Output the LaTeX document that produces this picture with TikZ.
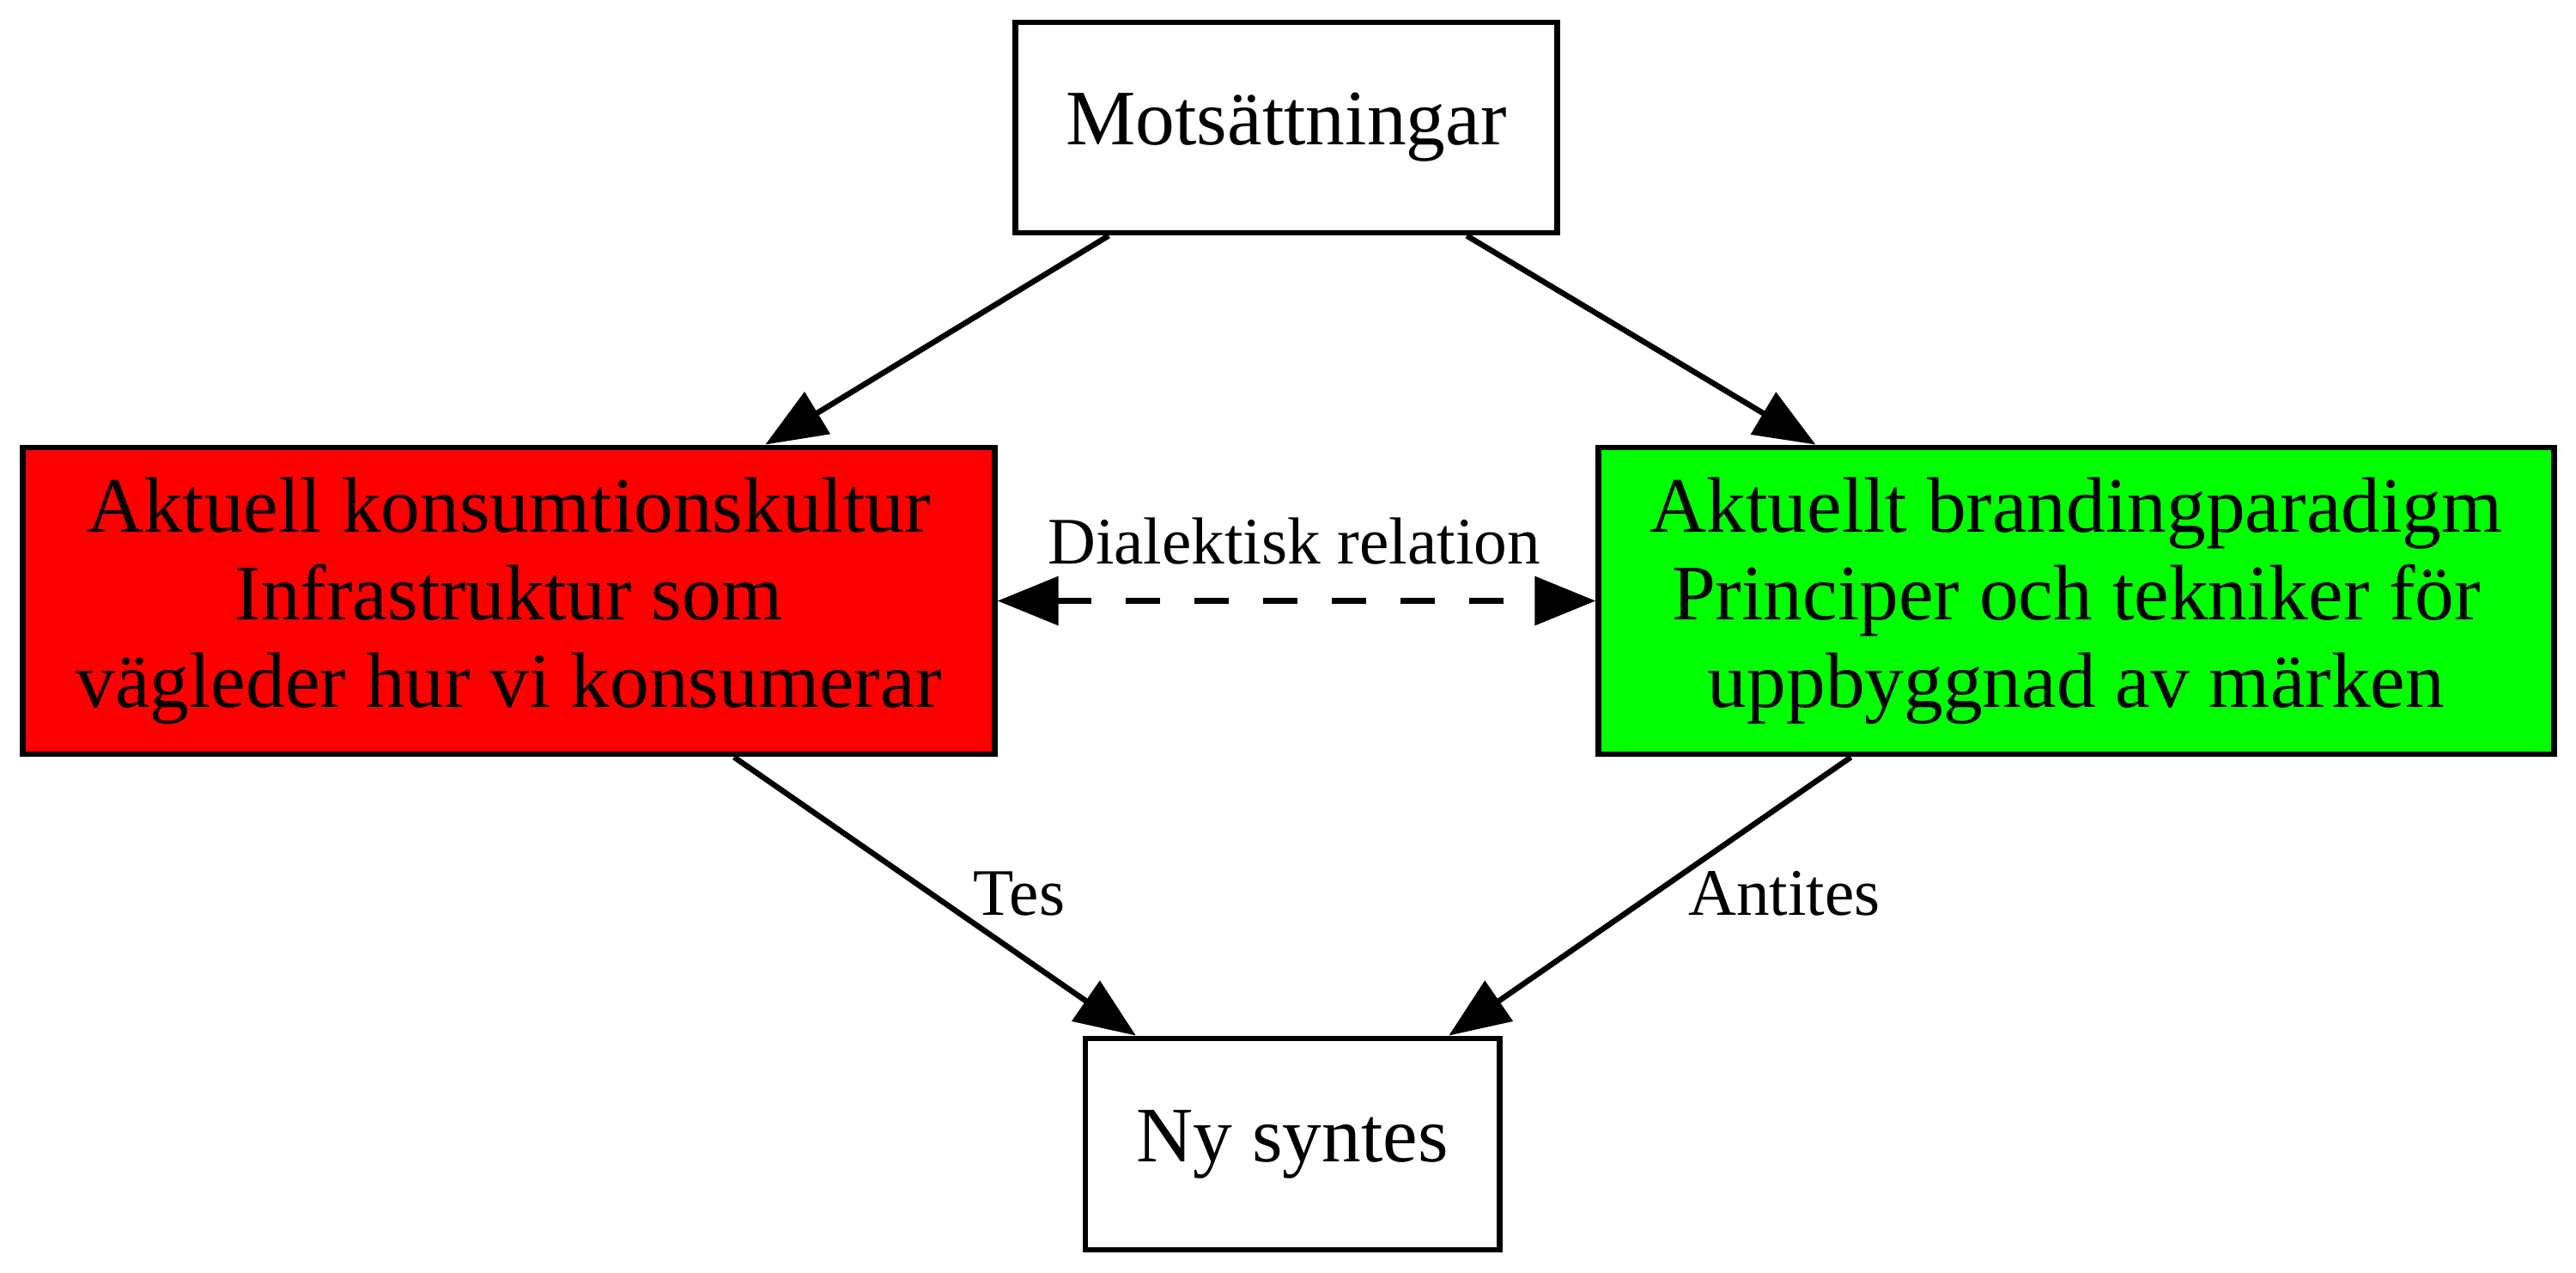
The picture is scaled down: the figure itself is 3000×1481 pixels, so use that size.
\documentclass[tikz,border=0pt]{standalone}
\usepackage{fontspec}
\setmainfont{Liberation Serif}
\usetikzlibrary{arrows.meta}
\definecolor{gvgreen}{RGB}{0,255,0}
\definecolor{gvred}{RGB}{255,0,0}
\begin{document}
\begin{tikzpicture}[x=0.01cm,y=-0.01cm,
  box/.style={draw=black, line width=1.9pt, inner sep=0pt, align=center, font=\fontsize{26}{29}\selectfont},
  lbl/.style={font=\fontsize{22}{26}\selectfont, inner sep=0pt, anchor=base},
  edge/.style={line width=1.85pt, -{Triangle[length=0.71cm,width=0.56cm]}},
  dedge/.style={line width=1.85pt, dash pattern=on 0.4cm off 0.4cm, {Triangle[length=0.71cm,width=0.56cm]}-{Triangle[length=0.71cm,width=0.56cm]}},
]
\useasboundingbox (0,0) rectangle (3000,1481);
\node[box, minimum width=6.30cm, minimum height=2.45cm] (top) at (1498,148.5) {Motsättningar};
\node[box, fill=gvred, minimum width=11.31cm, minimum height=3.57cm] (left) at (592.5,699.5) {Aktuell konsumtionskultur\\Infrastruktur som\\vägleder hur vi konsumerar};
\node[box, fill=gvgreen, minimum width=11.12cm, minimum height=3.57cm] (right) at (2418,699.5) {Aktuellt brandingparadigm\\Principer och tekniker för\\uppbyggnad av märken};
\node[box, minimum width=4.82cm, minimum height=2.46cm] (bot) at (1505,1332) {Ny syntes};
\draw[edge] (top) -- (left);
\draw[edge] (top) -- (right);
\draw[edge] (left) -- (bot);
\draw[edge] (right) -- (bot);
\draw[dedge] (left) -- (right);
\node[lbl] (dl) at (1507,656) {Dialektisk relation};
\node[lbl] (tes) at (1187,1065) {Tes};
\node[lbl] (antites) at (2078,1065) {Antites};
\end{tikzpicture}
\end{document}
